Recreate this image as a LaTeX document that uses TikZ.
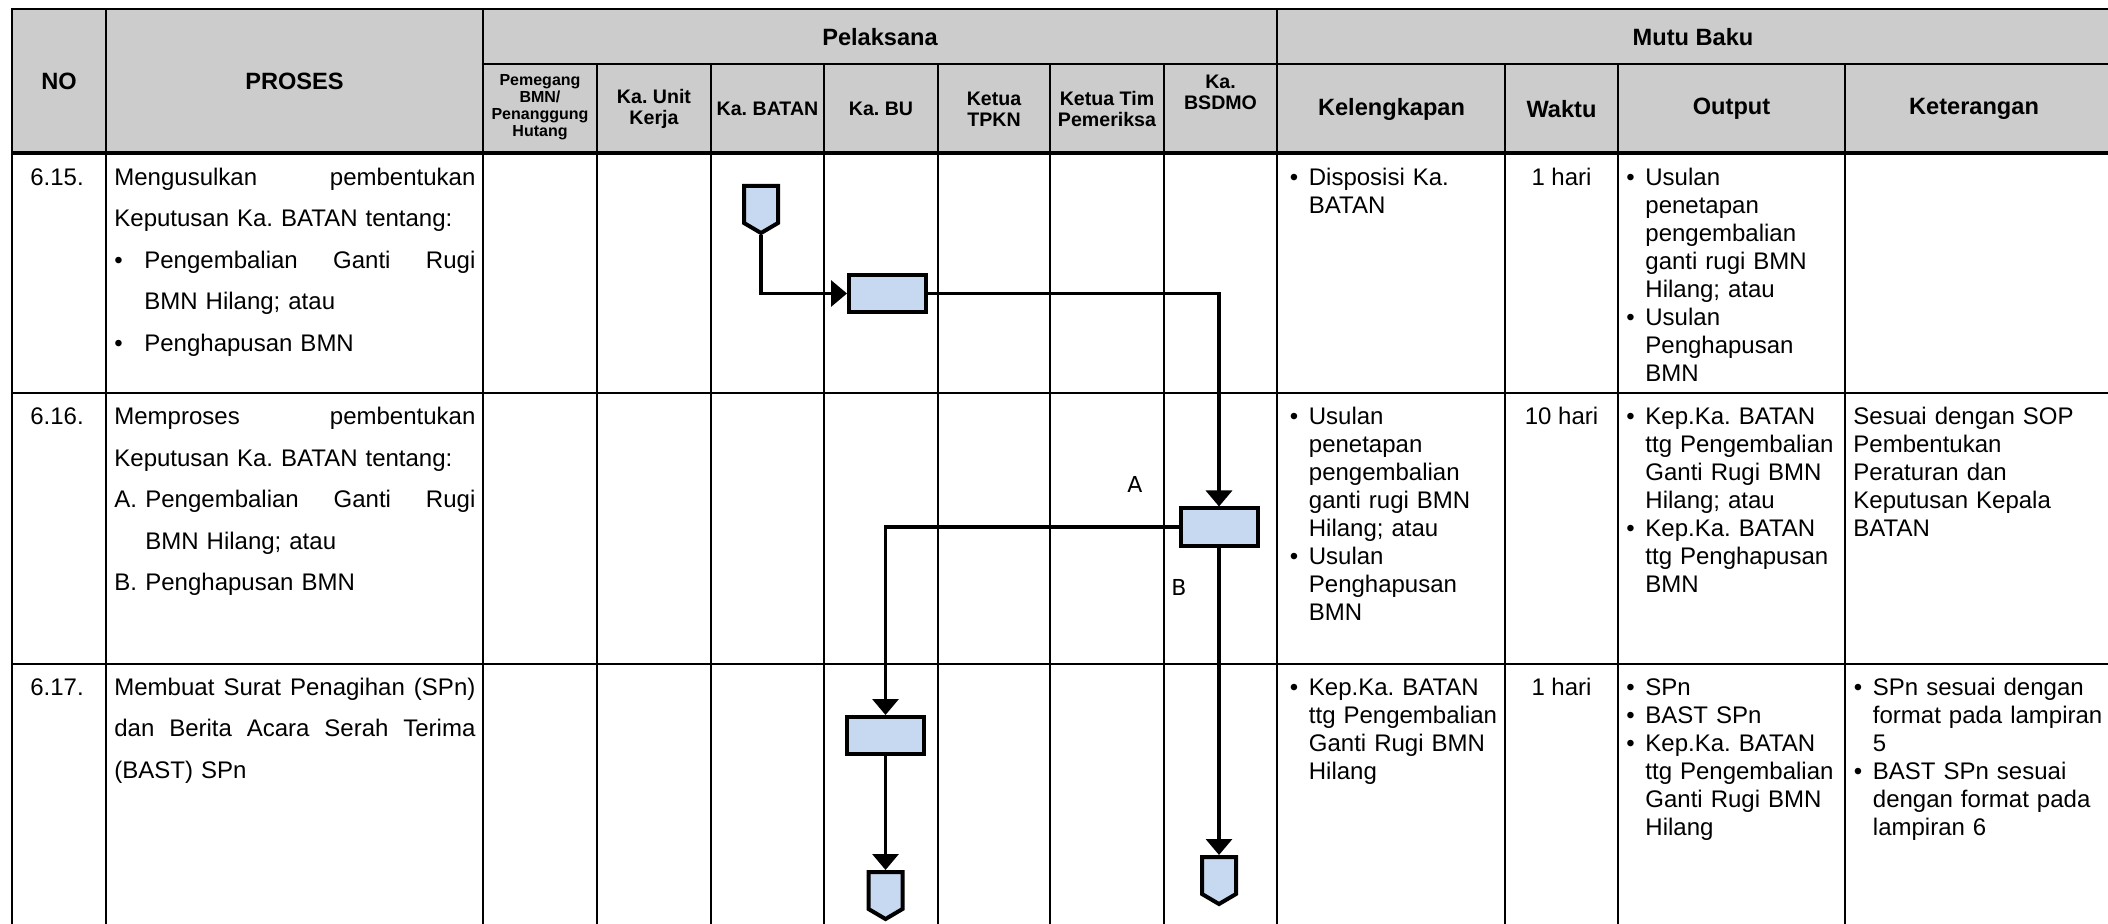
\documentclass[tikz,border=0pt]{standalone}
\usepackage{fontspec}
\setmainfont{Liberation Sans}
\newfontfamily\labelfont{DejaVu Sans}
\usetikzlibrary{shapes.symbols, arrows.meta, positioning}
\frenchspacing

\definecolor{headgray}{RGB}{204,204,204}
\definecolor{boxblue}{RGB}{198,217,240}

\newcommand{\itembul}{\makebox[9.5pt][l]{\textbullet}}
\newcommand{\itemind}{\hspace*{9.5pt}}

\begin{document}
\begin{tikzpicture}[x=0.5pt, y=-0.5pt,
    grid/.style={line width=1.35pt},
    head/.style={font=\bfseries\fontsize{11.8}{13}\selectfont},
    subhead/.style={align=center, font=\bfseries\fontsize{9.8}{10.4}\selectfont},
    cell/.style={anchor=base west, inner sep=0pt, text width=125pt, font=\fontsize{12}{14}\selectfont},
    proses/.style={anchor=base west, inner sep=0pt, text width=182pt, font=\fontsize{12}{20.75}\selectfont},
    task/.style={draw, line width=2pt, fill=boxblue, minimum width=38.5pt, minimum height=18.5pt, inner sep=0pt},
    offpage/.style={signal, signal to=south, signal pointer angle=119, draw, line width=2pt, fill=boxblue, minimum width=17pt, minimum height=18.5pt, inner sep=0pt},
    flow/.style={line width=1.7pt, -{Triangle[length=8pt, width=13pt]}}
]
    \useasboundingbox (0,0) rectangle (2108,924);

    % Header background
    \fill[headgray] (12,9) rectangle (2108,153);

    % Table lines
    \draw[grid] (2108,9) -- (12,9) -- (12,924);
    \draw[grid] (483,64) -- (2108,64);
    \draw[line width=1.9pt] (12,153) -- (2108,153);
    \draw[grid] (12,393) -- (2108,393);
    \draw[grid] (12,664) -- (2108,664);
    \foreach \x in {106,483,1277}
        \draw[grid] (\x,9) -- (\x,924);
    \foreach \x in {597,711,824,938,1050,1164,1505,1618,1845}
        \draw[grid] (\x,64) -- (\x,924);

    % Header texts
    \node[head] (hno) at (59,81) {NO};
    \node[head] (hproses) at (294.5,81) {PROSES};
    \node[head] (hpelaksana) at (880,37) {Pelaksana};
    \node[head] (hmutu) at (1693,37) {Mutu Baku};
    \node[subhead, font=\bfseries\fontsize{8}{8.6}\selectfont] (hpemegang) at (540,107) {Pemegang\\BMN/\\Penanggung\\Hutang};
    \node[subhead] (hunit) at (654,109) {Ka. Unit\\Kerja};
    \node[subhead] (hbatan) at (767.5,109) {Ka. BATAN};
    \node[subhead] (hbu) at (881,109) {Ka. BU};
    \node[subhead] (htpkn) at (994,109) {Ketua\\TPKN};
    \node[subhead] (htim) at (1107,109) {Ketua Tim\\Pemeriksa};
    \node[subhead] (hbsdmo) at (1220.5,92) {Ka.\\BSDMO};
    \node[head] (hkel) at (1391.5,109) {Kelengkapan};
    \node[head] (hwaktu) at (1561.5,109) {Waktu};
    \node[head] (houtput) at (1731.5,109) {Output};
    \node[head] (hket) at (1974,109) {Keterangan};

    % Row 6.15
    \node[cell, anchor=base, text width=] (no1) at (57,185.5) {6.15.};
    \node[proses] (pr1) at (114,185.5) {\makebox[180.5pt][l]{Mengusulkan\hfill pembentukan}\\
        Keputusan Ka. BATAN tentang:\\
        \makebox[15pt][l]{\textbullet}\makebox[165.5pt][l]{Pengembalian\hfill Ganti\hfill Rugi}\\
        \hspace*{15pt}BMN Hilang; atau\\
        \makebox[15pt][l]{\textbullet}Penghapusan BMN};
    \node[cell] (kel1) at (1289.5,185.5) {\itembul Disposisi Ka.\\ \itemind BATAN};
    \node[cell, anchor=base, text width=] (wk1) at (1561.5,185.5) {1 hari};
    \node[cell] (out1) at (1626,185.5) {\itembul Usulan\\ \itemind penetapan\\ \itemind pengembalian\\
        \itemind ganti rugi BMN\\ \itemind Hilang; atau\\ \itembul Usulan\\ \itemind Penghapusan\\ \itemind BMN};

    % Row 6.16
    \node[cell, anchor=base, text width=] (no2) at (57,425) {6.16.};
    \node[proses] (pr2) at (114,425) {\makebox[180.5pt][l]{Memproses\hfill pembentukan}\\
        Keputusan Ka. BATAN tentang:\\
        \makebox[15.5pt][l]{A.}\makebox[165pt][l]{Pengembalian\hfill Ganti\hfill Rugi}\\
        \hspace*{15.5pt}BMN Hilang; atau\\
        \makebox[15.5pt][l]{B.}Penghapusan BMN};
    \node[cell] (kel2) at (1289.5,425) {\itembul Usulan\\ \itemind penetapan\\ \itemind pengembalian\\
        \itemind ganti rugi BMN\\ \itemind Hilang; atau\\ \itembul Usulan\\ \itemind Penghapusan\\ \itemind BMN};
    \node[cell, anchor=base, text width=] (wk2) at (1561.5,425) {10 hari};
    \node[cell] (out2) at (1626,425) {\itembul Kep.Ka. BATAN\\ \itemind ttg Pengembalian\\ \itemind Ganti Rugi BMN\\
        \itemind Hilang; atau\\ \itembul Kep.Ka. BATAN\\ \itemind ttg Penghapusan\\ \itemind BMN};
    \node[cell] (ket2) at (1853,425) {Sesuai dengan SOP\\ Pembentukan\\ Peraturan dan\\ Keputusan Kepala\\ BATAN};

    % Row 6.17
    \node[cell, anchor=base, text width=] (no3) at (57,695) {6.17.};
    \node[proses] (pr3) at (114,695) {\makebox[180.5pt][l]{Membuat\hfill Surat\hfill Penagihan\hfill (SPn)}\\
        \makebox[180.5pt][l]{dan\hfill Berita\hfill Acara\hfill Serah\hfill Terima}\\
        (BAST) SPn};
    \node[cell] (kel3) at (1289.5,695) {\itembul Kep.Ka. BATAN\\ \itemind ttg Pengembalian\\ \itemind Ganti Rugi BMN\\ \itemind Hilang};
    \node[cell, anchor=base, text width=] (wk3) at (1561.5,695) {1 hari};
    \node[cell] (out3) at (1626,695) {\itembul SPn\\ \itembul BAST SPn\\ \itembul Kep.Ka. BATAN\\
        \itemind ttg Pengembalian\\ \itemind Ganti Rugi BMN\\ \itemind Hilang};
    \node[cell] (ket3) at (1853.5,695) {\itembul SPn sesuai dengan\\ \itemind format pada lampiran\\ \itemind 5\\
        \itembul BAST SPn sesuai\\ \itemind dengan format pada\\ \itemind lampiran 6};

    % Flow shapes
    \node[offpage, anchor=north] (start) at (761,184) {};
    \node[task] (usul) at (887.5,293.5) {};
    \node[task] (proses) at (1219,527) {};
    \node[task] (spn) at (885.5,735.5) {};
    \node[offpage, anchor=north] (endA) at (885.5,870) {};
    \node[offpage, anchor=north] (endB) at (1219,855) {};

    % Flow connectors
    \draw[flow] (start.south) |- (usul.west);
    \draw[flow] (usul.east) -| (proses.north);
    \draw[flow] (proses.west) -| (spn.north);
    \draw[flow] (spn.south) -- (endA.north);
    \draw[flow] (proses.south) -- (endB.north);

    % Branch labels
    \node[font=\labelfont\fontsize{11}{13}\selectfont] (labA) at (1135,484) {A};
    \node[font=\labelfont\fontsize{11}{13}\selectfont] (labB) at (1179,587) {B};
\end{tikzpicture}
\end{document}
